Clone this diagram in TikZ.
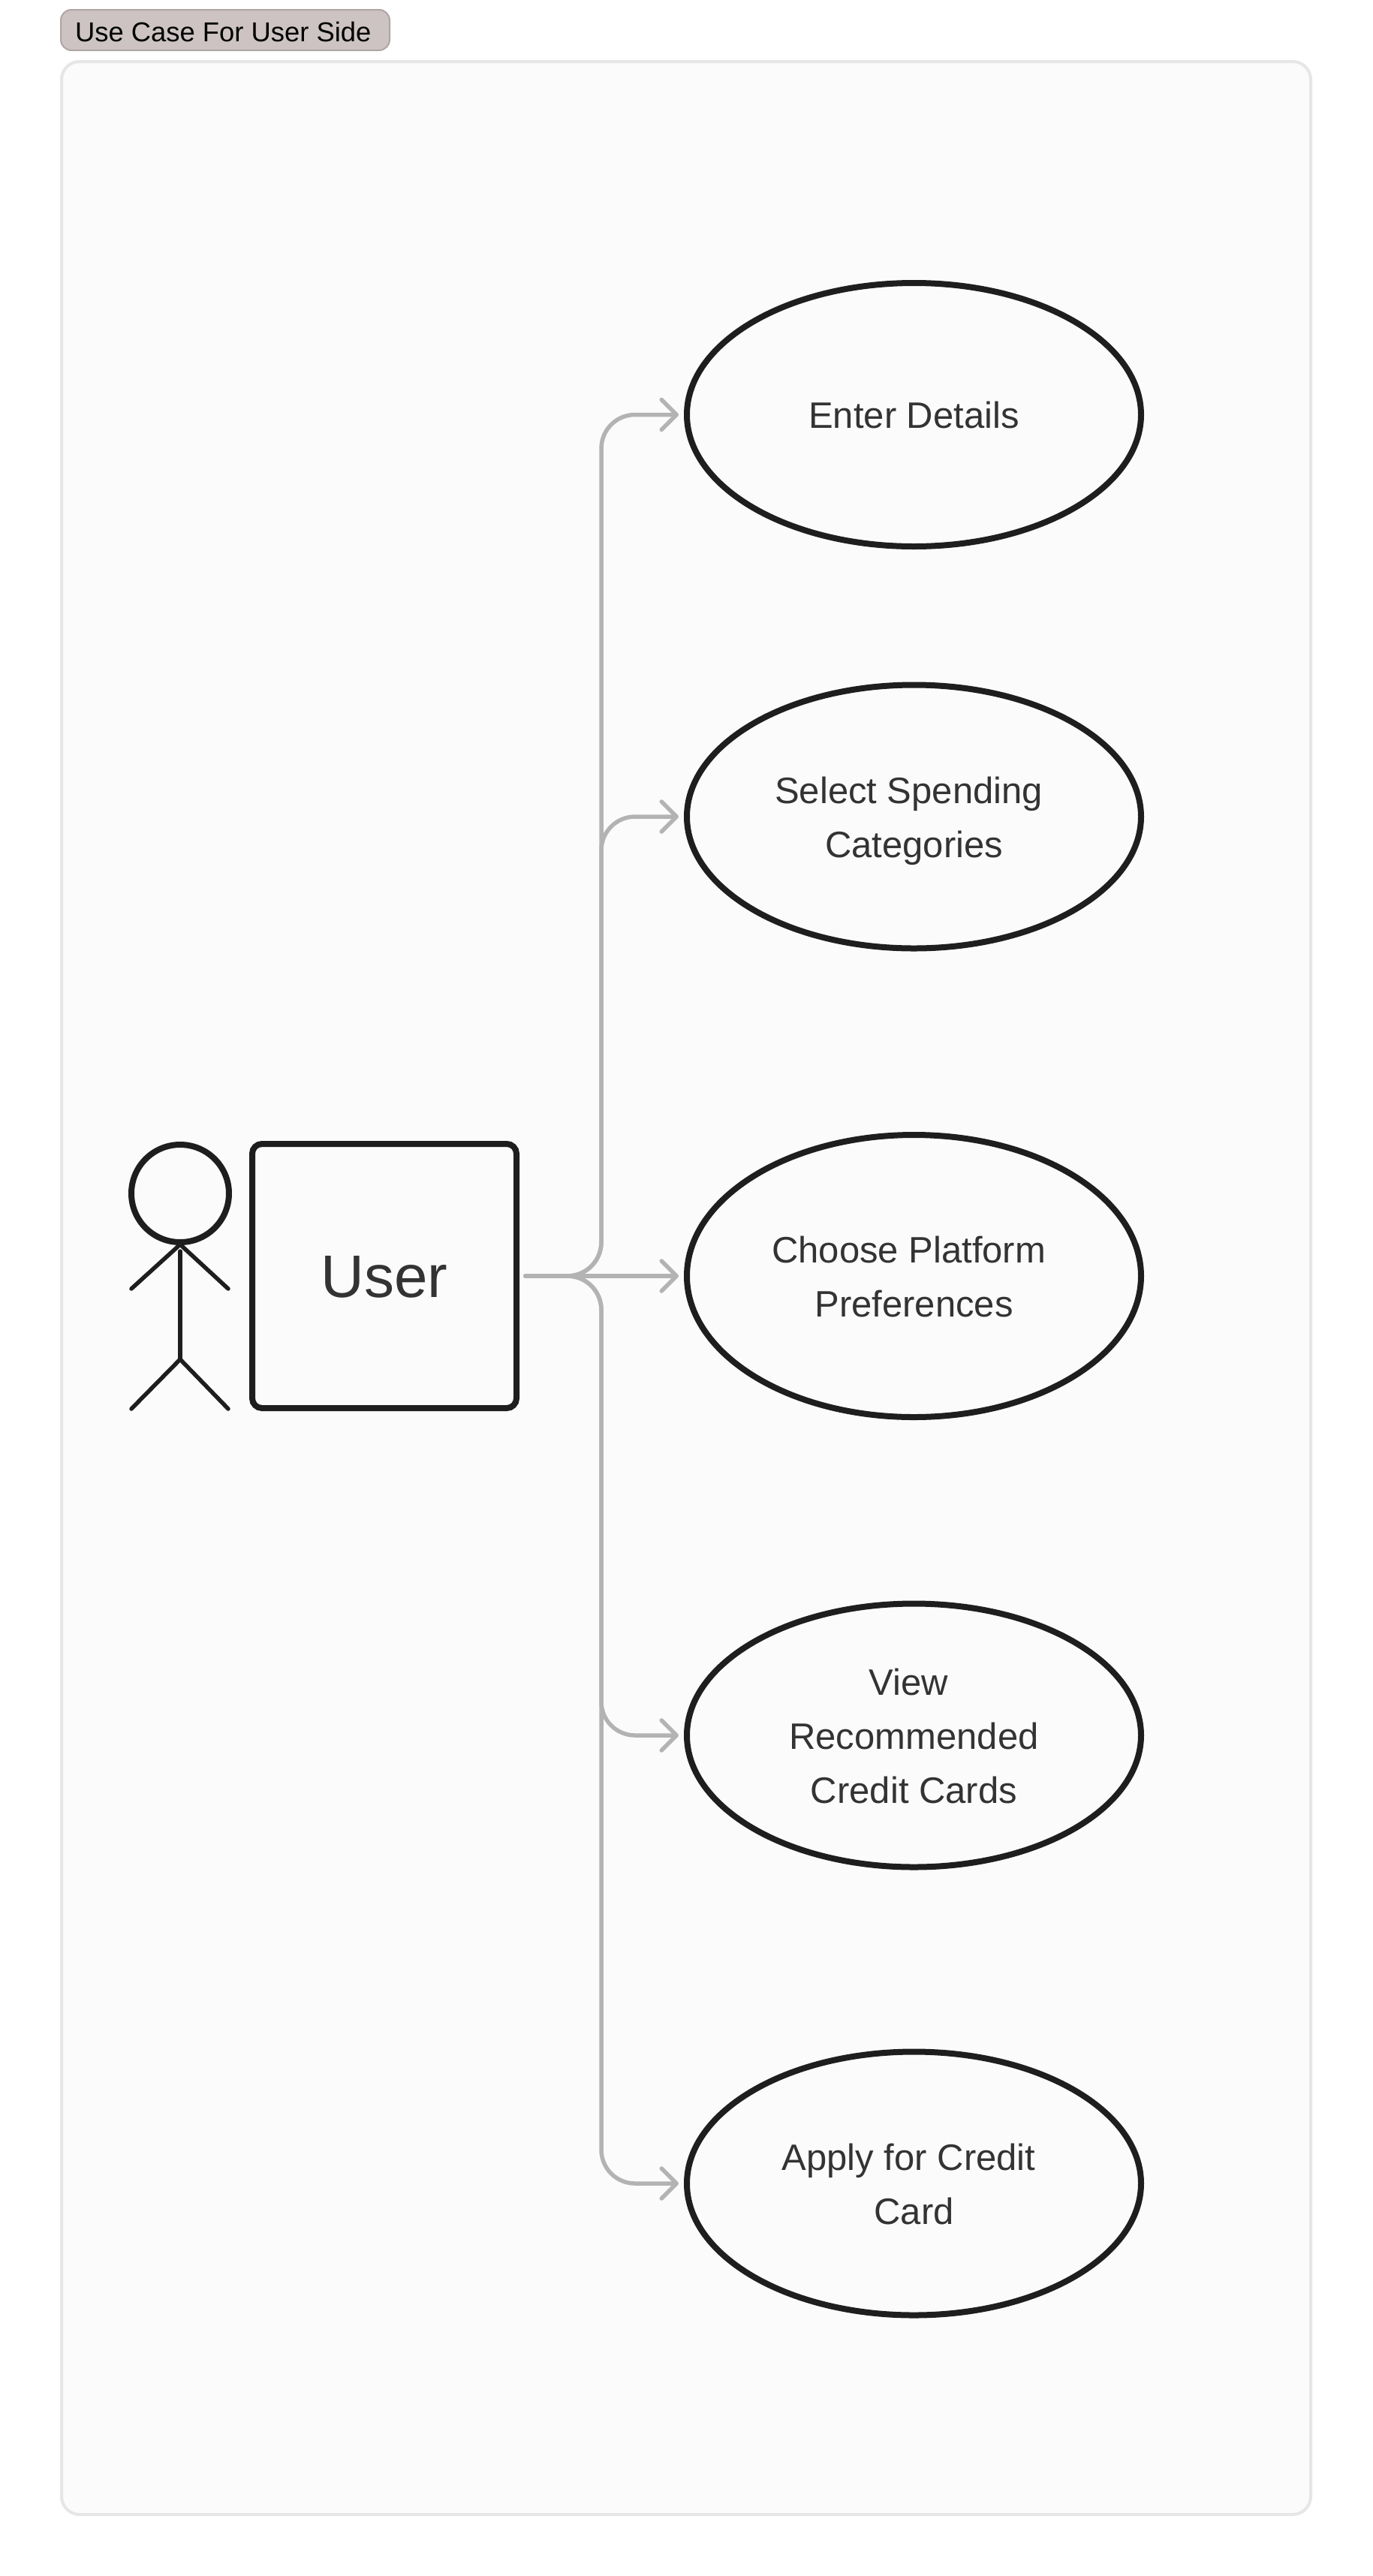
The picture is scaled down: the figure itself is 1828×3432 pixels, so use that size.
\documentclass[tikz,border=0pt]{standalone}
\usepackage{fontspec}
\setmainfont{Liberation Sans}
\usetikzlibrary{arrows.meta,shapes.geometric}
\definecolor{inkdark}{HTML}{1E1E1E}
\definecolor{inktext}{HTML}{333333}
\definecolor{linkgray}{HTML}{B3B3B3}
\definecolor{panelfill}{HTML}{FBFBFB}
\definecolor{panelline}{HTML}{E6E6E6}
\definecolor{badgefill}{HTML}{CDC3C3}
\definecolor{badgeline}{HTML}{B0A5A5}
\newcommand{\lnstrut}{\rule[-9pt]{0pt}{36pt}}
\newcommand{\trailsp}{\hspace*{.28em}}
\tikzset{
    usecase/.style={ellipse,draw=inkdark,fill=panelfill,line width=4pt,minimum width=302.5pt,minimum height=175.5pt,inner sep=0pt,align=center,text=inktext,font=\fontsize{24.5}{36}\selectfont},
    actorbox/.style={draw=inkdark,rounded corners=6.5pt,line width=4pt,minimum width=176pt,minimum height=176pt,inner sep=0pt,text=inktext,font=\fontsize{40}{48}\selectfont,text height=28pt,text depth=0pt},
    badge/.style={draw=badgeline,fill=badgefill,rounded corners=7pt,line width=1pt,minimum width=219pt,minimum height=27pt,inner sep=0pt,font=\fontsize{18.2}{22}\selectfont,text height=15pt,text depth=0pt},
    limb/.style={draw=inkdark,line width=2.75pt,line cap=round},
    link/.style={draw=linkgray,line width=2.75pt,line cap=round,rounded corners=22.5pt,shorten <=4pt,shorten >=3.5pt,-{Straight Barb[length=10pt,width=20pt,round]}}
}
\begin{document}
\begin{tikzpicture}[x=.5pt,y=-.5pt]
    \fill[white] (0,0) rectangle (1828,3432);
    \useasboundingbox (0,0) rectangle (1828,3432);
    \draw[panelline,fill=panelfill,line width=2pt,rounded corners=12pt] (82,82) rectangle (1746,3350);
    \node[badge] (Title) at (300,40) {Use Case For User Side\hspace*{.15em}};
    % actor
    \node[circle,draw=inkdark,line width=4pt,minimum size=65pt,inner sep=0pt] (Head) at (240,1590) {};
    \coordinate (Neck) at (240,1658);
    \coordinate (Hip) at (240,1811);
    \draw[limb] (Neck)--++(-65,59);
    \draw[limb] (Neck)--++(64,59);
    \draw[limb] (240,1667)--(Hip);
    \draw[limb] (Hip)--++(-65,66);
    \draw[limb] (Hip)--++(64,66);
    \node[actorbox] (User) at (512,1700) {User};
    % use cases
    \node[usecase] (Details) at (1217.5,552.5) {\lnstrut Enter Details};
    \node[usecase] (Categories) at (1217.5,1088) {\lnstrut Select Spending\trailsp\\\lnstrut Categories};
    \node[usecase,minimum height=188pt] (Platform) at (1217.5,1700) {\lnstrut Choose Platform\trailsp\\\lnstrut Preferences};
    \node[usecase] (Cards) at (1217.5,2312) {\lnstrut View\trailsp\\\lnstrut Recommended\trailsp\\\lnstrut Credit Cards};
    \node[usecase] (Apply) at (1217.5,2909) {\lnstrut Apply for Credit\trailsp\\\lnstrut Card};
    % connectors
    \coordinate (Trunk) at (801,1700);
    \foreach \uc in {Details,Categories,Cards,Apply}
        \draw[link] (User.east)--(Trunk)--(Trunk|-\uc.west)--(\uc.west);
    \draw[link] (User.east)--(Platform.west);
\end{tikzpicture}
\end{document}
